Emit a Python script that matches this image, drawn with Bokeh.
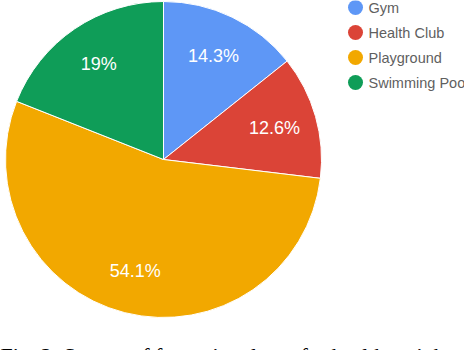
import math
from bokeh.plotting import figure
from bokeh.models import Range1d, ColumnDataSource
from bokeh.core.properties import value
from bokeh.embed import file_html
from bokeh.resources import INLINE

# ---- data ----
categories = ["Gym", "Health Club", "Playground", "Swimming Pool"]
percentages = [14.3, 12.6, 54.1, 19.0]
labels = ["14.3%", "12.6%", "54.1%", "19%"]
colors = ["#5E97F6", "#DB4437", "#F2A800", "#0F9D58"]
caption = "Fig. 2: Survey of favourite places for health weight"

W, H = 464, 350
CX, CY, R = 163, H - 159, 158

p = figure(width=W, height=H, output_backend="svg", toolbar_location=None,
           x_range=Range1d(0, W), y_range=Range1d(0, H), min_border=0)
p.axis.visible = False
p.grid.visible = False
p.outline_line_color = None
p.background_fill_color = "white"
p.border_fill_color = "white"

total = sum(percentages)
starts, ends, lx, ly = [], [], [], []
acc = 0.0
for v in percentages:
    a0 = math.pi / 2 - 2 * math.pi * acc / total
    a1 = math.pi / 2 - 2 * math.pi * (acc + v) / total
    starts.append(a0)
    ends.append(a1)
    mid = (a0 + a1) / 2
    lx.append(CX + 0.73 * R * math.cos(mid))
    ly.append(CY + 0.73 * R * math.sin(mid))
    acc += v

src = ColumnDataSource(dict(start=starts, end=ends, color=colors, cat=categories,
                            lx=lx, ly=ly, label=labels))
p.wedge(x=CX, y=CY, radius=R, start_angle="start", end_angle="end",
        direction="clock", fill_color="color", line_color="white", line_width=1,
        source=src)
p.text(x="lx", y="ly", text="label", source=src, text_color="white",
       text_font=value("Liberation Sans"), text_font_size="18px",
       text_align="center", text_baseline="middle")

# legend
leg_y = [H - 7 - 25 * i for i in range(len(categories))]
lsrc = ColumnDataSource(dict(y=leg_y, color=colors, cat=categories))
p.scatter(x=355, y="y", size=15, marker="circle", fill_color="color",
          line_color=None, source=lsrc)
p.text(x=368, y="y", text="cat", source=lsrc, text_color="#5f5f5f",
       text_font=value("Liberation Sans"), text_font_size="14.5px",
       text_align="left", text_baseline="middle")

# caption (cut off at bottom, as in the reference)
p.text(x=[0], y=[-5], text=[caption], text_color="black",
       text_font=value("Liberation Serif"), text_font_size="22px",
       text_align="left", text_baseline="alphabetic")

open("out.html", "w").write(file_html(p, INLINE))
